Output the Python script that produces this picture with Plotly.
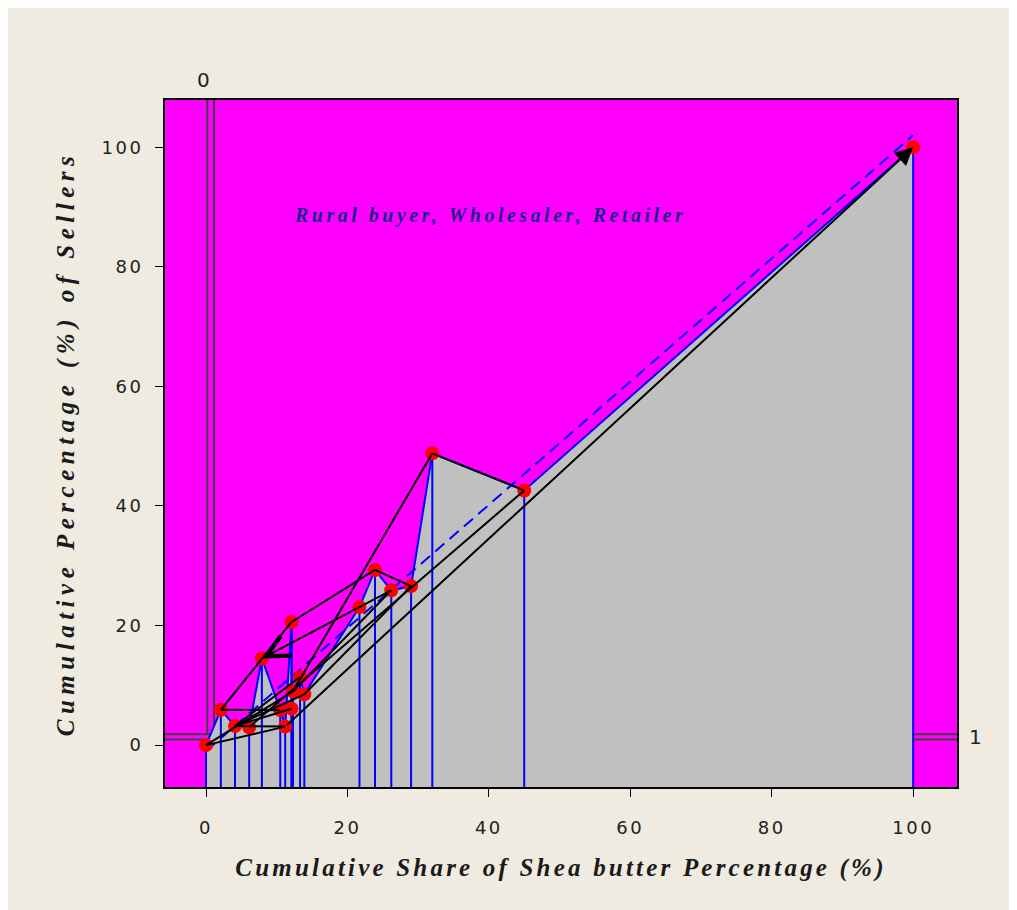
import plotly.graph_objects as go

# ---- data ----
share_x = [0, 2.1, 4.1, 6.1, 7.9, 10.5, 11.2, 12.1, 12.1, 12.3, 13.3, 13.9,
           21.7, 23.9, 26.2, 29.0, 32.0, 45.0, 100.0]
sellers_y = [0, 5.9, 3.2, 3.0, 14.5, 5.85, 3.1, 20.6, 6.1, 9.0, 11.4, 8.5,
             23.1, 29.3, 25.9, 26.6, 48.8, 42.6, 100.0]

# black connecting path (index pairs) and whether an arrow head is drawn
link_from = [0, 0, 6, 2, 2, 2, 1, 1, 7, 13, 14, 16, 16, 9, 11, 3, 6]
link_to   = [6, 9, 2, 10, 11, 8, 5, 7, 13, 15, 4, 17, 9, 14, 15, 17, 18]
link_head = [0, 0, 0, 0, 0, 0, 0, 0, 0, 0, 1, 0, 0, 0, 0, 0, 1]

# dashed equality/trend line
diag_x = [0, 100]
diag_y = [-1, 102]

# reference lines and their labels
ref_v = [0.18, 1.13]
ref_h = [0.95, 1.84]

tick_vals = [0, 20, 40, 60, 80, 100]
tick_text = ["0", "20", "40", "60", "80", "100"]

x_range = [-5.8, 106.2]
y_range = [-7, 107.9]

PINK = "#FF00FF"
GREY = "#C0C0C0"
BLUE = "#0000FF"
BG = "#EFEBE0"

fig = go.Figure()

# grey area under the curve down to the bottom of the plot
order = sorted(range(len(share_x)), key=lambda i: share_x[i])
cx = [share_x[i] for i in order]
cy = [sellers_y[i] for i in order]
fig.add_trace(go.Scatter(
    x=cx + [cx[-1], cx[0]], y=cy + [y_range[0], y_range[0]],
    fill="toself", fillcolor=GREY, mode="none", hoverinfo="skip"))

# vertical drop lines
dx, dy = [], []
for xv, yv in zip(share_x, sellers_y):
    dx += [xv, xv, None]
    dy += [yv, y_range[0], None]
fig.add_trace(go.Scatter(x=dx, y=dy, mode="lines",
                         line=dict(color=BLUE, width=2), hoverinfo="skip"))

# blue curve
fig.add_trace(go.Scatter(x=cx, y=cy, mode="lines",
                         line=dict(color=BLUE, width=2), hoverinfo="skip"))

# dashed line
fig.add_trace(go.Scatter(x=diag_x, y=diag_y, mode="lines",
                         line=dict(color=BLUE, width=2, dash="12px,7px"),
                         hoverinfo="skip"))

# red points
fig.add_trace(go.Scatter(x=share_x, y=sellers_y, mode="markers",
                         marker=dict(color="#FF0000", size=14), hoverinfo="skip"))

# black path
lx, ly = [], []
for a, b, h in zip(link_from, link_to, link_head):
    if not h:
        lx += [share_x[a], share_x[b], None]
        ly += [sellers_y[a], sellers_y[b], None]
fig.add_trace(go.Scatter(x=lx, y=ly, mode="lines",
                         line=dict(color="black", width=2), hoverinfo="skip"))

for a, b, h in zip(link_from, link_to, link_head):
    if h:
        big = share_x[b] > 50
        fig.add_annotation(x=share_x[b], y=sellers_y[b],
                           ax=share_x[a], ay=sellers_y[a],
                           xref="x", yref="y", axref="x", ayref="y",
                           showarrow=True, arrowhead=2 if big else 5,
                           arrowsize=1.8 if big else 2.2,
                           arrowwidth=2, arrowcolor="black",
                           standoff=0, text="")

# reference lines (under the traces)
for v in ref_v:
    fig.add_shape(type="line", xref="x", yref="y", x0=v, x1=v,
                  y0=ref_h[-1], y1=y_range[1], layer="below",
                  line=dict(color="#404040", width=2))
for h in ref_h:
    fig.add_shape(type="line", xref="x", yref="y", x0=x_range[0], x1=x_range[1],
                  y0=h, y1=h, layer="below",
                  line=dict(color="#404040", width=2))

fig.add_annotation(x=ref_v[0], y=1.0, xref="x", yref="paper", yanchor="bottom",
                   text="0", showarrow=False, yshift=6, xshift=-4,
                   font=dict(family="DejaVu Sans", size=20, color="#222"))
fig.add_annotation(x=1.0, y=sum(ref_h) / 2, xref="paper", yref="y", xanchor="left",
                   text="1", showarrow=False, xshift=10,
                   font=dict(family="DejaVu Sans", size=20, color="#222"))

fig.add_annotation(x=40.2, y=88.6, xref="x", yref="y", showarrow=False,
                   text='<span style="letter-spacing:3.5px">Rural buyer, Wholesaler, Retailer</span>',
                   font=dict(family="Liberation Serif", size=20, color="#1E1E8C",
                             weight="bold", style="italic"))

tick_font = dict(family="DejaVu Sans", size=18, color="#222")
spaced = ['<span style="letter-spacing:2.5px">%s</span>' % t for t in tick_text]

fig.update_layout(
    width=1017, height=910,
    margin=dict(l=157, r=68, t=92, b=131),
    paper_bgcolor=BG, plot_bgcolor=PINK,
    showlegend=False,
    xaxis=dict(range=x_range, tickvals=tick_vals, ticktext=spaced,
               showgrid=False, zeroline=False,
               showline=True, mirror=True, linecolor="black", linewidth=2,
               ticks="outside", ticklen=8, tickwidth=1, tickcolor="black",
               tickfont=tick_font, ticklabelstandoff=15,
               title=dict(text='<span style="letter-spacing:3.2px">Cumulative Share of Shea butter Percentage (%)</span>',
                          font=dict(family="Liberation Serif", size=25, color="#1a1a1a",
                                    weight="bold", style="italic"),
                          standoff=22)),
    yaxis=dict(range=y_range, tickvals=tick_vals, ticktext=spaced,
               showgrid=False, zeroline=False,
               showline=True, mirror=True, linecolor="black", linewidth=2,
               ticks="outside", ticklen=8, tickwidth=1, tickcolor="black",
               tickfont=tick_font, ticklabelstandoff=8,
               title=dict(text='<span style="letter-spacing:5.5px">Cumulative Percentage (%) of Sellers</span>',
                          font=dict(family="Liberation Serif", size=25, color="#1a1a1a",
                                    weight="bold", style="italic"),
                          standoff=20)),
)

fig.write_html("out.html")
